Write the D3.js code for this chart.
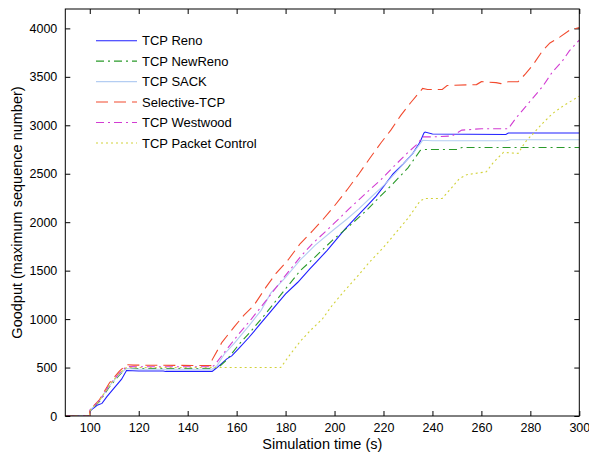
<!DOCTYPE html>
<html>
<head>
<meta charset="utf-8">
<script src="https://cdn.jsdelivr.net/npm/d3@7"></script>
<style>
  body { margin: 0; background: #fff; }
  svg text { font-family: "Liberation Sans", Arial, sans-serif; fill: #000; }
</style>
</head>
<body>
<div id="chart"></div>
<script>
// goodput series, [time (s), max sequence number]
const reno = [[90,0],[100,0],[100,50],[103,110],[105,130],[107,200],[110,290],[113,380],[115,470],[120,465],[130,465],[131,460],[150,460],[152,500],[156,590],[158,620],[161,700],[165,810],[170,960],[175,1110],[180,1260],[185,1380],[190,1520],[193,1600],[197,1710],[200,1800],[204,1920],[208,2030],[213,2160],[217,2270],[221,2400],[224,2500],[228,2600],[232,2710],[235,2830],[236.5,2920],[237,2930],[240,2910],[270,2905],[271,2920],[300,2920]];
const newReno = [[90,0],[100,0],[100,50],[104,150],[108,300],[112,420],[115,495],[120,490],[150,490],[153,510],[156,580],[161,740],[166,880],[172,1060],[178,1250],[186,1500],[192,1640],[199,1810],[206,1960],[213,2120],[218,2250],[224,2400],[230,2560],[235,2740],[237,2750],[250,2750],[252,2770],[300,2770]];
const sack = [[90,0],[100,0],[100,55],[104,160],[108,310],[112,430],[115,490],[120,482],[150,482],[152,520],[155,640],[159,750],[165,930],[170,1090],[174,1270],[180,1430],[186,1610],[192,1760],[200,1930],[205,2030],[210,2140],[215,2260],[221,2400],[226,2540],[232,2710],[236,2845],[240,2840],[270,2840],[272,2850],[300,2850]];
const selective = [[90,0],[100,0],[100,60],[104,170],[108,340],[112,460],[115,530],[118,525],[150,520],[150,580],[154,760],[159,920],[163,1040],[167,1140],[172,1330],[176,1470],[181,1610],[186,1780],[191,1910],[195,2020],[200,2170],[205,2330],[210,2500],[215,2680],[219,2820],[223,2950],[227,3100],[231,3230],[234,3320],[236,3380],[238,3370],[244,3370],[246,3410],[258,3420],[260,3450],[266,3440],[268,3430],[271,3450],[275,3450],[278,3530],[281,3620],[285,3770],[288,3850],[292,3910],[296,3980],[300,4010]];
const westwood = [[90,0],[100,0],[100,60],[104,160],[108,320],[112,440],[115,510],[120,508],[150,508],[151,526],[156,690],[161,850],[166,1000],[172,1190],[179,1420],[186,1640],[191,1780],[197,1920],[202,2040],[206,2140],[212,2280],[219,2440],[224,2570],[230,2720],[234,2810],[236,2880],[240,2880],[248,2890],[252,2950],[260,2965],[271,2965],[274,3070],[278,3190],[285,3400],[289,3550],[293,3660],[296,3770],[300,3880]];
const packetControl = [[90,0],[100,0],[100,55],[104,160],[108,320],[112,440],[115,500],[120,500],[178,500],[182,640],[186,770],[190,880],[195,1000],[199,1140],[204,1290],[209,1430],[214,1580],[220,1740],[225,1890],[230,2040],[235,2220],[237,2245],[244,2245],[248,2360],[251,2450],[254,2490],[262,2520],[265,2620],[269,2720],[275,2710],[278,2830],[281,2910],[285,3020],[289,3120],[294,3210],[300,3300]];

const seriesNames = ["TCP Reno", "TCP NewReno", "TCP SACK", "Selective-TCP", "TCP Westwood", "TCP Packet Control"];
const seriesData = [reno, newReno, sack, selective, westwood, packetControl];
const xTicks = [100, 120, 140, 160, 180, 200, 220, 240, 260, 280, 300];
const yTicks = [0, 500, 1000, 1500, 2000, 2500, 3000, 3500, 4000];

// line styles
const colors = ["#1f1fff", "#2a9a2a", "#b4cdf2", "#f24a2e", "#d23cd2", "#d2d23a"];
const dashes = [null, "8,4,2,4", null, "12,6", "8,4,2,4", "2,3"];

const W = 589, H = 457;
const margin = {top: 9, right: 9.7, bottom: 41, left: 65.3};
const width = W - margin.left - margin.right;
const height = H - margin.top - margin.bottom;

const svg = d3.select("#chart").append("svg")
    .attr("width", W)
    .attr("height", H);

const g = svg.append("g")
    .attr("transform", "translate(" + margin.left + "," + margin.top + ")");

const x = d3.scaleLinear().domain([90, 300]).range([0, width]);
const y = d3.scaleLinear().domain([0, 4200]).range([height, 0]);

g.append("defs").append("clipPath")
    .attr("id", "clip")
    .append("rect")
    .attr("width", width)
    .attr("height", height);

// axes with inward ticks on all four sides
const tl = 5;
g.append("g")
    .attr("transform", "translate(0," + height + ")")
    .call(d3.axisBottom(x).tickValues(xTicks).tickSizeInner(-tl).tickSizeOuter(0).tickPadding(7))
    .call(a => a.select(".domain").remove());
g.append("g")
    .call(d3.axisTop(x).tickValues(xTicks).tickSizeInner(-tl).tickSizeOuter(0).tickFormat(""))
    .call(a => a.select(".domain").remove());
g.append("g")
    .call(d3.axisLeft(y).tickValues(yTicks).tickSizeInner(-tl).tickSizeOuter(0).tickPadding(8).tickFormat(d3.format("d")))
    .call(a => a.select(".domain").remove());
g.append("g")
    .attr("transform", "translate(" + width + ",0)")
    .call(d3.axisRight(y).tickValues(yTicks).tickSizeInner(-tl).tickSizeOuter(0).tickFormat(""))
    .call(a => a.select(".domain").remove());

g.selectAll(".tick line").attr("stroke", "#000");
g.selectAll(".tick text")
    .style("font-size", "12.5px")
    .style("font-family", "'Liberation Sans', Arial, sans-serif");

const line = d3.line()
    .x(d => x(d[0]))
    .y(d => y(d[1]));

g.append("g")
    .attr("clip-path", "url(#clip)")
    .selectAll("path")
    .data(seriesData)
    .join("path")
    .attr("d", line)
    .attr("fill", "none")
    .attr("stroke", (d, i) => colors[i])
    .attr("stroke-width", 1.1)
    .attr("stroke-dasharray", (d, i) => dashes[i]);

// plot box
g.append("rect")
    .attr("width", width)
    .attr("height", height)
    .attr("fill", "none")
    .attr("stroke", "#000")
    .attr("stroke-width", 1);

// legend
const legend = g.append("g")
    .attr("transform", "translate(" + (96 - margin.left) + "," + (40.7 - margin.top) + ")");
const items = legend.selectAll("g")
    .data(seriesNames)
    .join("g")
    .attr("transform", (d, i) => "translate(0," + (i * 20.45) + ")");
items.append("line")
    .attr("x1", 0).attr("x2", 41)
    .attr("y1", 0).attr("y2", 0)
    .attr("stroke", (d, i) => colors[i])
    .attr("stroke-width", 1.1)
    .attr("stroke-dasharray", (d, i) => dashes[i]);
items.append("text")
    .attr("x", 46)
    .attr("dy", "0.35em")
    .style("font-size", "13px")
    .text(d => d);

// axis labels
svg.append("text")
    .attr("x", margin.left + width / 2)
    .attr("y", 449)
    .attr("text-anchor", "middle")
    .style("font-size", "14.5px")
    .text("Simulation time (s)");

svg.append("text")
    .attr("transform", "translate(22," + (margin.top + height / 2) + ") rotate(-90)")
    .attr("text-anchor", "middle")
    .style("font-size", "14.5px")
    .text("Goodput (maximum sequence number)");
</script>
</body>
</html>
